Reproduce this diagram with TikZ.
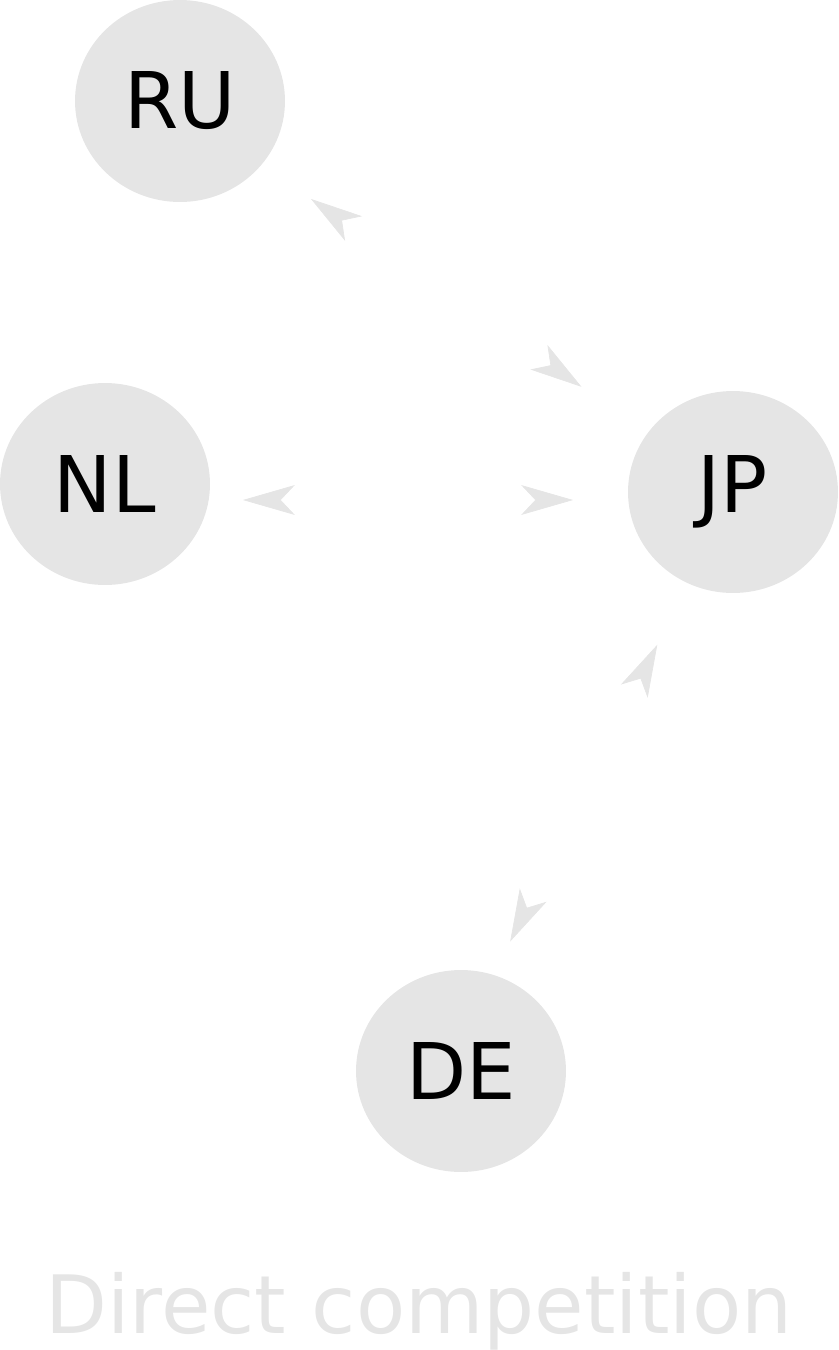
\documentclass[tikz,border=0pt]{standalone}
\usepackage{fontspec}
\setmainfont{DejaVu Sans}
\usepackage{tikz}
\usetikzlibrary{arrows.meta,shapes.geometric}
\definecolor{nodegray}{HTML}{E5E5E5}
\tikzset{
	cty/.style={ellipse, fill=nodegray, draw=none, minimum width=4.2cm,
		minimum height=4.04cm, inner sep=0pt,
		font=\fontsize{44.5pt}{50pt}\selectfont},
	lnk/.style={draw=white, line width=0.4pt,
		{Stealth[length=29.5pt, width=17pt, inset=8pt, color=nodegray]}-{Stealth[length=29.5pt, width=17pt, inset=8pt, color=nodegray]}},
	ttl/.style={font=\fontsize{45.8pt}{50pt}\selectfont, text=nodegray, anchor=base, inner sep=0pt},
}

\begin{document}
\begin{tikzpicture}[x=0.02cm, y=-0.02cm]
	\useasboundingbox (0,0) rectangle (839,1350);
	\node[cty] at (180,101) (ru) {RU};
	\node[cty] at (105,484) (nl) {NL};
	\node[cty] at (733,492) (jp) {JP};
	\node[cty] at (461,1071) (de) {DE};
	\draw[lnk, shorten <=3.19cm, shorten >=3.69cm] ([yshift=-0.14cm]ru.center) -- (jp.center);
	\draw[lnk, shorten <=2.76cm, shorten >=3.2cm] ([yshift=-0.32cm]nl.center) -- ([yshift=-0.16cm]jp.center);
	\draw[lnk, shorten <=2.89cm, shorten >=3.41cm] ([xshift=-0.3cm]de.center) -- (jp.center);
	\node[ttl] at (419,1333) (title) {Direct competition};
\end{tikzpicture}
\end{document}
